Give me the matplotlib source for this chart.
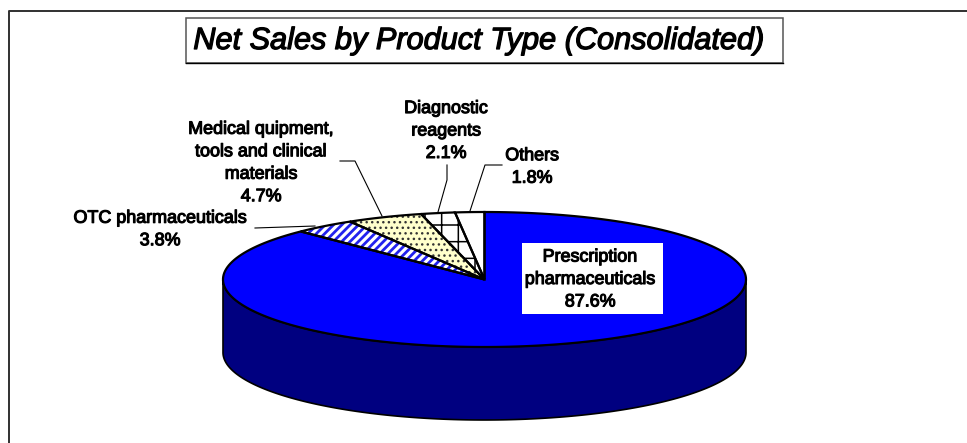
import numpy as np
import matplotlib
matplotlib.use("Agg")
import matplotlib.pyplot as plt
import matplotlib.patheffects as pe
from matplotlib.patches import Polygon, Rectangle

plt.rcParams['font.family'] = ['Liberation Sans', 'DejaVu Sans']

titulo = "Net Sales by Product Type (Consolidated)"
categorias = ["Prescription\npharmaceuticals", "OTC pharmaceuticals",
              "Medical quipment,\ntools and clinical\nmaterials",
              "Diagnostic\nreagents", "Others"]
valores = [87.6, 3.8, 4.7, 2.1, 1.8]

# geometria do disco, em pixels
CX, CY = 484.5, 279.5
RX, RY = 261.5, 67.5
ALTURA = 73


def ponto(frac):
    # frac = fracao da volta, no sentido horario a partir das 12h
    t = 2 * np.pi * np.asarray(frac)
    return CX + RX * np.sin(t), CY - RY * np.cos(t)


def setor(ini, fim):
    ts = np.linspace(ini, fim, 200)
    x, y = ponto(ts)
    return np.column_stack([np.r_[CX, x], np.r_[CY, y]])


fig = plt.figure(figsize=(9.67, 4.43), dpi=100)
ax = fig.add_axes([0, 0, 1, 1])
ax.set_xlim(0, 967)
ax.set_ylim(443, 0)
ax.axis('off')

# moldura (cortada na direita e embaixo)
ax.plot([9, 9, 967], [443, 11, 11], color='#303030', lw=1.4, zorder=1)

# lateral do disco
ts = np.linspace(0.25, 0.75, 200)
x, y = ponto(ts)
lado = np.column_stack([np.r_[x, x[::-1]], np.r_[y, y[::-1] + ALTURA]])
ax.add_patch(Polygon(lado, closed=True, fc='#000080', ec='black', lw=1.2, zorder=2))

estilos = [
    dict(fc='#0000ff', ec='black'),
    dict(fc='white', ec='#2222ee', hatch='////'),
    dict(fc='#ffffcc', ec='#333333', hatch='...'),
    dict(fc='white', ec='black', hatch='+'),
    dict(fc='white', ec='black'),
]
larguras_hatch = [1.0, 2.0, 1.0, 1.1, 1.0]

acum = np.cumsum([0] + valores) / sum(valores)
for i, est in enumerate(estilos):
    pts = setor(acum[i], acum[i + 1])
    plt.rcParams['hatch.linewidth'] = larguras_hatch[i]
    fatia = Polygon(pts, closed=True, lw=0, zorder=3, **est)
    ax.add_patch(fatia)
    ax.add_patch(Polygon(pts, closed=True, fc='none', ec='black', lw=1.6, zorder=4))

# titulo
ax.add_patch(Rectangle((186, 18), 597, 45, fc='white', ec='#555555', lw=1.1, zorder=5))
ax.plot([186, 783], [63, 63], color='black', lw=1, zorder=5)
ax.text(478, 41, titulo, fontsize=22.1, style='italic', ha='center', va='center', zorder=6,
        path_effects=[pe.withStroke(linewidth=0.9, foreground='black')])

# caixa branca do rotulo principal
ax.add_patch(Rectangle((522, 243), 141, 71, fc='white', ec='none', zorder=5))

rotulos = [f"{c}\n{v:.1f}%" for c, v in zip(categorias, valores)]
posicoes = [(590, 279.5), (160, 229.5), (261, 163), (446, 131), (532, 167)]
for txt, (x_t, y_t) in zip(rotulos, posicoes):
    ax.text(x_t, y_t, txt, fontsize=12.9, ha='center', va='center', linespacing=1.42, zorder=6,
            path_effects=[pe.withStroke(linewidth=0.8, foreground='black')])

# linhas de chamada
chamadas = [
    ([255, 315], [228, 226]),
    ([340, 355, 382], [161, 161, 216]),
    ([447, 447, 438], [165, 180, 212]),
    ([502, 485, 470], [165, 165, 211]),
]
for xs, ys in chamadas:
    ax.plot(xs, ys, color='black', lw=0.8, zorder=6)

fig.savefig("out.png", dpi=100)
